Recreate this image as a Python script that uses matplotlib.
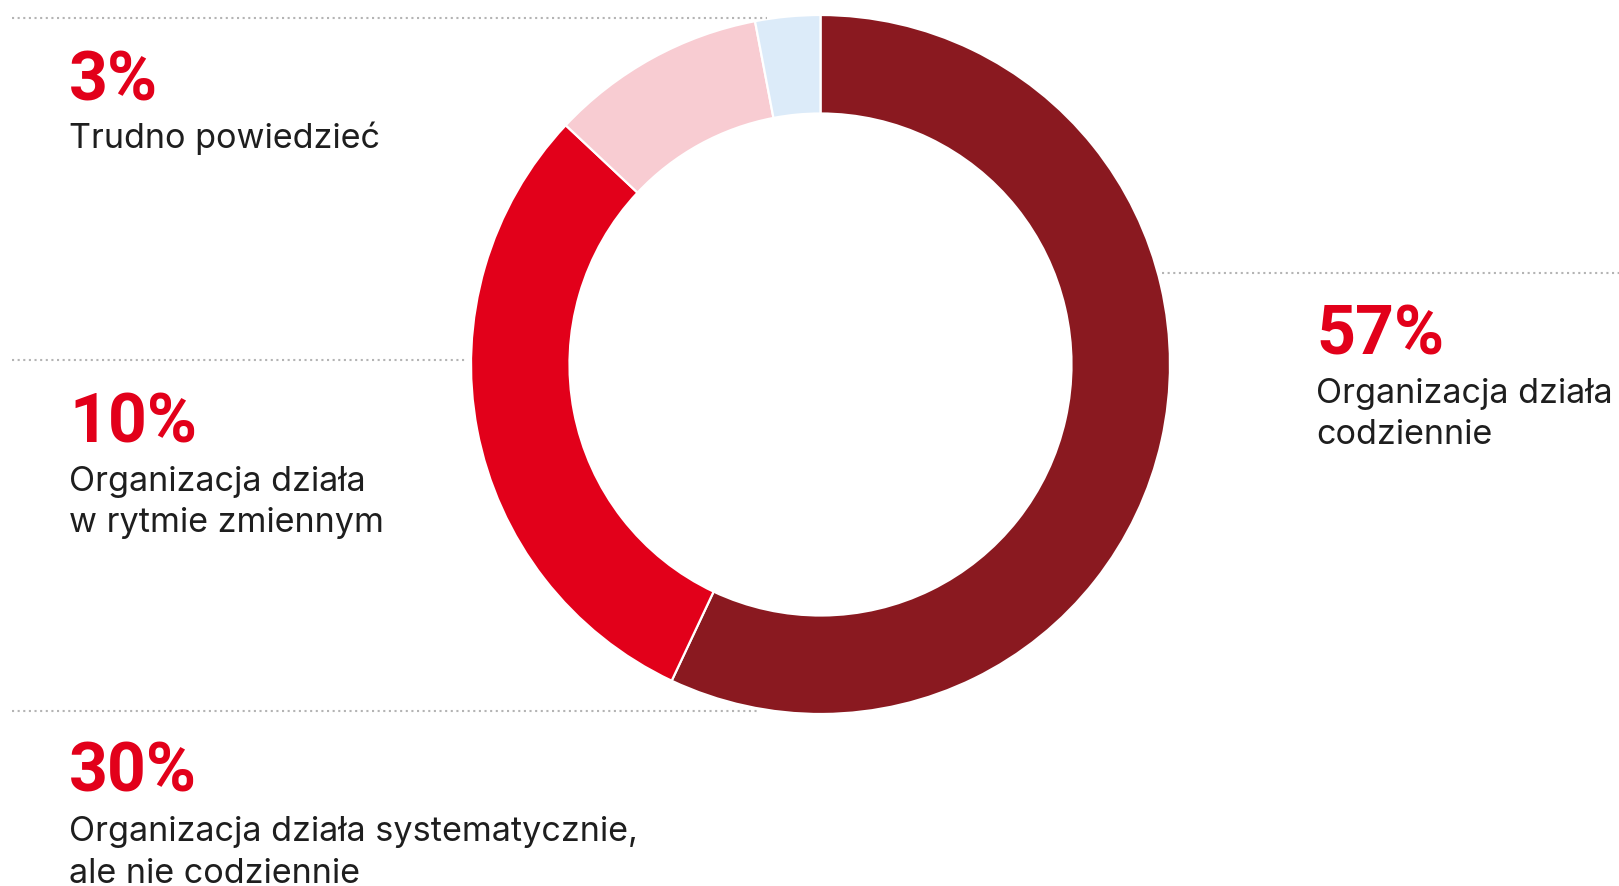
import matplotlib
matplotlib.use("Agg")
import matplotlib.pyplot as plt

# Survey shares, clockwise from 12 o'clock
shares = [57, 30, 10, 3]
colors = ["#8A1920", "#E2001A", "#F8CCD2", "#DCEBF9"]
pct_labels = ["57%", "30%", "10%", "3%"]
descriptions = [
    "Organizacja działa\ncodziennie",
    "Organizacja działa systematycznie,\nale nie codziennie",
    "Organizacja działa\nw rytmie zmiennym",
    "Trudno powiedzieć",
]

W, H = 1619, 886
RED = "#E2001A"
INK = "#1E1E1E"
DOT = "#B4B4B4"

fig = plt.figure(figsize=(W / 100, H / 100), dpi=100)
ax = fig.add_axes([0, 0, 1, 1])

# donut, pixel coordinates with y measured from the bottom
cx, cy, r_out, r_in = 820.5, H - 364.5, 349.5, 251.0
ax.pie(
    shares, colors=colors, startangle=90, counterclock=False,
    center=(cx, cy), radius=r_out,
    wedgeprops=dict(width=r_out - r_in, edgecolor="white", linewidth=1.6),
)

# dotted separators
dots = dict(color=DOT, linewidth=1.5, linestyle=(0, (1, 1.7)), solid_capstyle="round")
for x0, x1, y in [(12, 767, 17.5), (12, 467, 360.3), (12, 758, 710.7), (1162, W, 272.7)]:
    ax.plot([x0, x1], [H - y, H - y], **dots)

# labels: (x, baseline of percentage, baseline of first description line)
label_pos = [(1316, 354, 403), (69, 791.5, 841.5), (69, 442.7, 490.7), (69, 100, 148)]
for (x, y_pct, y_txt), pct, desc in zip(label_pos, pct_labels, descriptions):
    ax.text(x, H - y_pct, pct, color=RED, fontsize=49, fontweight="bold",
            family="Roboto", ha="left", va="baseline")
    for i, line in enumerate(desc.split("\n")):
        ax.text(x, H - y_txt - i * 41.3, line, color=INK, fontsize=24.6,
                family="Inter", ha="left", va="baseline")

ax.set_xlim(0, W)
ax.set_ylim(0, H)
ax.set_aspect("equal")
ax.axis("off")

fig.savefig("out.png", dpi=100, facecolor="white")
